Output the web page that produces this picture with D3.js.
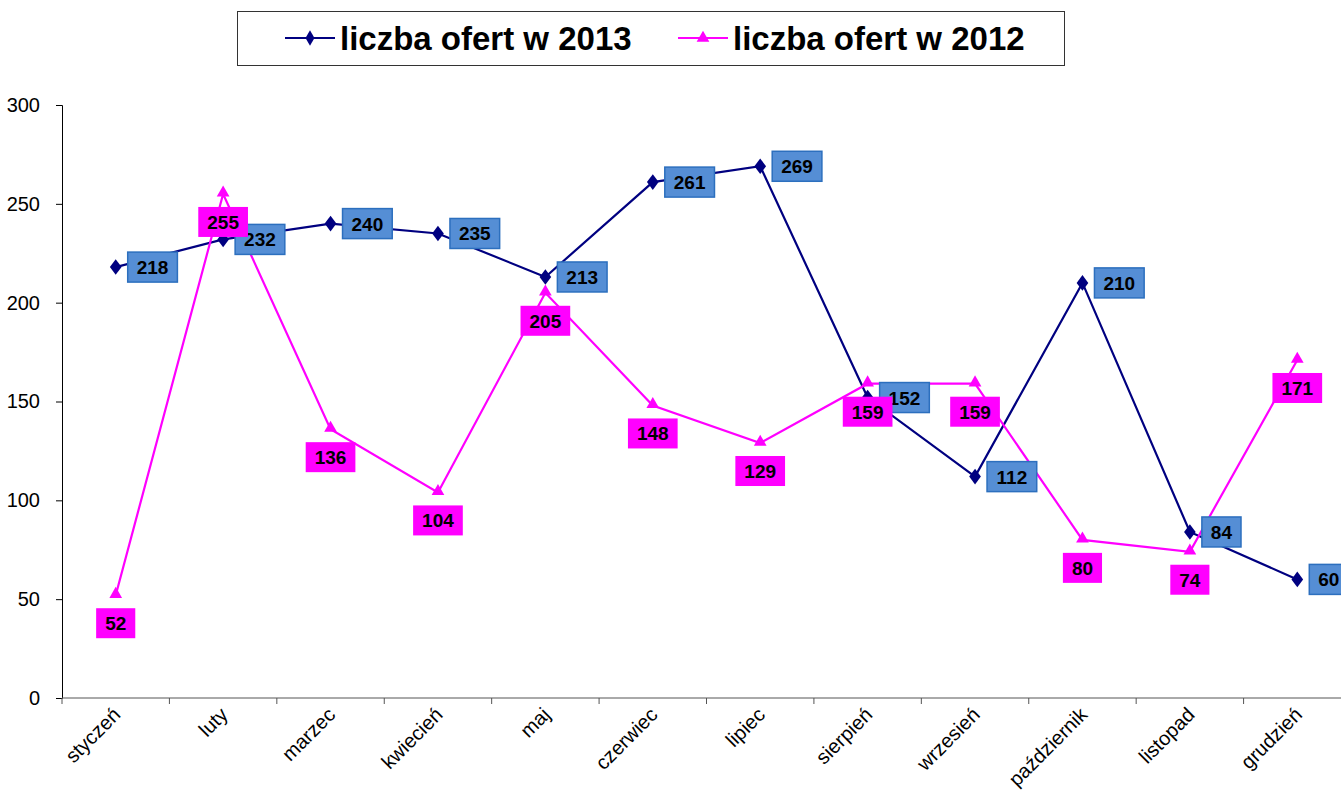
<!DOCTYPE html>
<html><head><meta charset="utf-8">
<script src="https://cdn.jsdelivr.net/npm/d3@7"></script>
<style>html,body{margin:0;padding:0;background:#fff;} svg{display:block;font-family:Arial,"Liberation Sans",sans-serif;}</style>
</head><body>
<svg id="chart" width="1341" height="792"></svg>
<script>
const months = ["styczeń","luty","marzec","kwiecień","maj","czerwiec","lipiec","sierpień","wrzesień","październik","listopad","grudzień"];
const values2013 = [218,232,240,235,213,261,269,152,112,210,84,60];
const values2012 = [52,255,136,104,205,148,129,159,159,80,74,171];
const yTicks = [0,50,100,150,200,250,300];
const seriesNames = ["liczba ofert w 2013","liczba ofert w 2012"];

const svg = d3.select("#chart");
const x = d3.scaleBand().domain(months).range([62, 1351]);
const y = d3.scaleLinear().domain([0,300]).range([698,105]);
const cx = m => x(m) + x.bandwidth()/2;

// Y axis
const yAxis = svg.append("g").attr("transform","translate(62,0)")
  .call(d3.axisLeft(y).tickValues(yTicks).tickSize(6).tickPadding(16));
yAxis.select(".domain").attr("stroke","#000").attr("stroke-width",1);
yAxis.selectAll(".tick line").attr("stroke","#000");
yAxis.selectAll("text").attr("font-size","20px").attr("fill","#000").attr("font-family","Arial, Liberation Sans, sans-serif");

// X axis
const xg = svg.append("g");
xg.append("line").attr("x1",62).attr("x2",1351).attr("y1",698).attr("y2",698).attr("stroke","#555").attr("stroke-width",1);
const bounds = months.map(m => x(m)).concat([x(months[11]) + x.bandwidth()]);
xg.selectAll(".xt").data(bounds).join("line")
  .attr("x1",d=>d).attr("x2",d=>d).attr("y1",698).attr("y2",704).attr("stroke","#555");
xg.selectAll(".xl").data(months).join("text")
  .attr("transform", d => `translate(${cx(d)+6},716) rotate(-45)`)
  .attr("text-anchor","end").attr("font-size","20px").attr("fill","#000")
  .text(d=>d);

// lines
const line = d3.line().x((d,i)=>cx(months[i])).y(d=>y(d));
svg.append("path").datum(values2013).attr("d",line).attr("fill","none").attr("stroke","#000080").attr("stroke-width",2.2);
svg.append("path").datum(values2012).attr("d",line).attr("fill","none").attr("stroke","#FF00FF").attr("stroke-width",2.2);

// markers
const diamond = d3.symbol().type(d3.symbolDiamond).size(70);
const tri = d3.symbol().type(d3.symbolTriangle).size(70);
svg.selectAll(".m13").data(values2013).join("path")
  .attr("d",diamond).attr("transform",(d,i)=>`translate(${cx(months[i])},${y(d)}) scale(1.3,1)`).attr("fill","#000080");
svg.selectAll(".m12").data(values2012).join("path")
  .attr("d",tri).attr("transform",(d,i)=>`translate(${cx(months[i])},${y(d)-1})`).attr("fill","#FF00FF");

// labels 2013
function measure(t){ return t.length*0.556*19; }
const g13 = svg.append("g");
values2013.forEach((v,i)=>{
  const t = String(v), w = measure(t)+18, px = cx(months[i])+12, py = y(v);
  g13.append("rect").attr("x",px).attr("y",py-15).attr("width",w).attr("height",30)
    .attr("fill","#558ED5").attr("stroke","#2C6FBE").attr("stroke-width",1.5);
  g13.append("text").attr("x",px+w/2).attr("y",py+7).attr("text-anchor","middle")
    .attr("font-size","19px").attr("font-weight","bold").attr("fill","#000").text(t);
});
// labels 2012
const g12 = svg.append("g");
values2012.forEach((v,i)=>{
  const t = String(v), w = measure(t)+18, px = cx(months[i]), py = y(v)+28;
  g12.append("rect").attr("x",px-w/2).attr("y",py-15).attr("width",w).attr("height",30).attr("fill","#FF00FF");
  g12.append("text").attr("x",px).attr("y",py+7).attr("text-anchor","middle")
    .attr("font-size","19px").attr("font-weight","bold").attr("fill","#000").text(t);
});

// legend
const lg = svg.append("g");
lg.append("rect").attr("x",237.5).attr("y",11.5).attr("width",827).attr("height",54).attr("fill","#fff").attr("stroke","#333").attr("stroke-width",1);
const legItems = [
  {name: seriesNames[0], color:"#000080", sym: diamond, x0:285},
  {name: seriesNames[1], color:"#FF00FF", sym: tri, x0:678}
];
legItems.forEach(it=>{
  lg.append("line").attr("x1",it.x0).attr("x2",it.x0+50).attr("y1",38).attr("y2",38).attr("stroke",it.color).attr("stroke-width",2.2);
  lg.append("path").attr("d",it.sym).attr("transform",`translate(${it.x0+25},38)`).attr("fill",it.color);
  lg.append("text").attr("x",it.x0+55).attr("y",50).attr("font-size","33px").attr("font-weight","bold").attr("fill","#000").text(it.name);
});
</script>
</body></html>
